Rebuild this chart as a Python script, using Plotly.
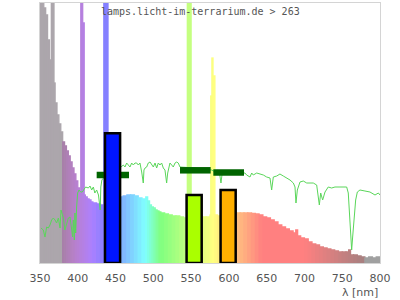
import plotly.graph_objects as go

# ---------------- data ----------------
title_text = "lamps.licht-im-terrarium.de > 263"
axis_title = "λ [nm]"
tick_vals = [350, 400, 450, 500, 550, 600, 650, 700, 750, 800]

# measured lamp spectrum: bin start wavelength (nm) and relative intensity
lam_start = [350, 355, 357.5, 360, 362.5, 365, 368.5, 370, 372.5, 375, 377.5,
             380, 382.5, 385, 387.5, 390, 392.5, 395, 397.5, 400, 402.5, 404, 406.5, 408.5,
             410, 412.5, 415, 417.5, 420, 425, 430, 434.5, 440, 445, 450, 455, 457.5,
             460, 465, 470, 475, 480, 485, 490, 492.5, 495, 497.5, 500, 502.5, 505, 507.5,
             510, 515, 520, 525, 530, 535, 540, 545, 550, 555, 560, 565, 570, 575, 576,
             577.5, 579, 581.5, 585, 590, 595, 600, 605, 610, 615, 620, 625, 630, 635,
             640, 645, 650, 655, 660, 665, 670, 675, 680, 685, 688.5, 691, 695, 700, 705,
             710, 715, 720, 725, 730, 735, 740, 745, 750, 755, 758.5, 761, 765, 770, 775,
             780, 785, 790, 795]
spec_val = [300, 255, 248, 223, 203, 300, 180, 160, 148, 139, 131,
            121, 117, 112, 107, 101, 95, 89, 82, 75, 70, 300, 240, 68,
            66, 64, 63, 61, 60, 59, 58, 300, 62, 63, 64, 65, 66,
            67, 68, 68, 67, 65, 64, 66, 62, 58, 56, 55, 53, 52, 51,
            50, 49, 48, 47, 47, 46, 45, 300, 46, 46, 46, 46, 46, 48, 167,
            205, 187, 48, 47, 50, 50, 50, 50, 50, 50, 50, 50, 49.5, 49,
            48, 46, 45, 43, 41, 38, 36, 34, 32, 30, 33, 27, 25, 24, 21,
            19, 18, 16, 15, 14, 13, 12, 11, 11, 11, 13, 8, 8, 7, 6,
            5, 6, 5, 6]
lam_end = 800

# reference (sunlight) spectrum
sun_lam = [351.3, 354.4, 356.6, 358.8, 361, 363.2, 365.4, 367.6, 369.9, 372, 374.3, 376.5,
           377.8, 378.7, 380.9, 383, 385.3, 387.5, 389.7, 391.9, 393.2, 394, 395.4, 396.3,
           397.2, 398.5, 399.8, 401.6, 403.8, 406, 408.2, 410.4, 414, 416.2, 418.4, 420.6,
           422.6, 425, 427.4, 428.8, 429.7, 430.5, 431.9, 445, 457.2, 460.3, 462.5, 464.7,
           466.9, 469.1, 471.3, 473.5, 475.7, 478, 480.1, 482.3, 484.6, 486.7, 487.6, 489,
           491.2, 493.3, 495.6, 497.8, 500, 502.2, 504.4, 506.6, 508.8, 511, 513.2, 515.4,
           517.6, 519, 520.7, 522, 524.3, 526.4, 528.7, 530.9, 533, 535.3, 555, 577.2, 582,
           585.6, 588, 589.5, 591, 600, 619, 621.3, 623.5, 627.9, 630.2, 632.3, 636.8, 641.2,
           645.6, 650, 654.4, 656.6, 658.8, 663.3, 667.6, 672, 676.5, 680.9, 685.3, 687.5,
           688.8, 690.6, 694.1, 698.5, 703, 707.3, 711.7, 716.2, 718.3, 719.7, 721.5, 724.1,
           727.2, 731.5, 736, 740.4, 747, 755.9, 758, 760.3, 762.5, 763.8, 765.6, 767.8, 770,
           773.5, 780.1, 786.7, 793.4, 797.8, 800]
sun_val = [35, 33, 26, 36, 35, 38, 43, 45, 43, 40, 45, 35,
           53, 51, 45, 33, 40, 45, 46, 36, 26, 43, 23, 50,
           30, 56, 70, 73, 71, 71, 73, 76, 75, 77, 73, 76,
           70, 73, 68, 61, 53, 76, 83, 95, 96, 98, 96, 100,
           98, 96, 100, 98, 100, 100, 98, 100, 91, 80, 93, 95,
           96, 100, 101, 98, 96, 100, 95, 100, 98, 100, 95, 93,
           80, 90, 95, 100, 98, 96, 100, 101, 100, 96, 95, 93, 91,
           93, 88, 80, 89, 91, 90, 90, 88, 86, 90, 88, 90, 89,
           88, 86, 85, 73, 86, 87, 89, 87, 85, 83, 80, 76,
           60, 73, 81, 82, 80, 80, 80, 78, 66, 58, 70, 63,
           71, 76, 75, 76, 76, 76, 70, 46, 13, 26, 46, 63, 71,
           73, 72, 71, 68, 70, 68]

# band averages (dark green segments)
seg_from = [425, 535.3, 579.4]
seg_to = [467.8, 575.9, 620]
seg_val = [88, 92.7, 90.5]

# band bars (blue, green, orange)
band_center = [446, 554, 599]
band_val = [129.7, 68, 73]
band_colors = ["#0015ff", "#aaff00", "#ffb000"]
band_width = 20


# ---------------- styles ----------------
def wl_color(l):
    if l < 380:
        return "#aca6ac"
    if l >= 780:
        return "#a0a0a0"
    if l < 440:
        r, g, b = (440 - l) / 60, 0, 1
    elif l < 490:
        r, g, b = 0, (l - 440) / 50, 1
    elif l < 510:
        r, g, b = 0, 1, (510 - l) / 20
    elif l < 580:
        r, g, b = (l - 510) / 70, 1, 0
    elif l < 645:
        r, g, b = 1, (645 - l) / 65, 0
    else:
        r, g, b = 1, 0, 0
    if l < 420:
        f = 0.3 + 0.7 * (l - 380) / 40
    elif l > 700:
        f = 0.3 + 0.7 * (780 - l) / 80
    else:
        f = 1.0
    c = [int(round(255 * (0.5 + 0.5 * v * f))) for v in (r, g, b)]
    return "rgb(%d,%d,%d)" % tuple(c)


edges = lam_start[1:] + [lam_end]
widths = [e - s for s, e in zip(lam_start, edges)]
centers = [s + w / 2 for s, w in zip(lam_start, widths)]
colors = [wl_color(c) for c in centers]

fig = go.Figure()
fig.add_trace(go.Bar(x=lam_start, y=spec_val, width=widths, offset=0,
                     marker=dict(color=colors, line=dict(width=1.3, color=colors)),
                     showlegend=False, hoverinfo="skip"))
fig.add_trace(go.Scatter(x=sun_lam, y=sun_val, mode="lines",
                         line=dict(color="#5ad65a", width=1),
                         showlegend=False, hoverinfo="skip"))
for a, b, v in zip(seg_from, seg_to, seg_val):
    fig.add_trace(go.Scatter(x=[a, b], y=[v, v], mode="lines",
                             line=dict(color="#006400", width=6.5),
                             showlegend=False, hoverinfo="skip"))
for c, v, col in zip(band_center, band_val, band_colors):
    x0, x1 = c - band_width / 2, c + band_width / 2
    fig.add_trace(go.Scatter(x=[x0, x0, x1, x1, x0], y=[0, v, v, 0, 0],
                             mode="lines", fill="toself", fillcolor=col,
                             line=dict(color="#000000", width=2.5),
                             showlegend=False, hoverinfo="skip"))

fig.add_annotation(text=title_text, xref="paper", yref="paper",
                   x=0.4735, y=0.967, xanchor="center", yanchor="middle",
                   showarrow=False,
                   font=dict(family="DejaVu Sans Mono", size=10, color="#555555"))
fig.add_annotation(text=axis_title, xref="paper", yref="paper",
                   x=1.0, y=-0.115, xanchor="right", yanchor="middle",
                   showarrow=False,
                   font=dict(family="DejaVu Sans", size=11, color="#555555"))

fig.update_layout(
    width=400, height=300,
    margin=dict(l=40, r=20, t=3, b=37),
    paper_bgcolor="white", plot_bgcolor="white",
    barmode="overlay",
    xaxis=dict(range=[350, 800], tickvals=tick_vals, ticks="",
               ticklabelstandoff=5,
               showgrid=False, zeroline=False,
               showline=True, mirror=True, linecolor="#d4d4d4", linewidth=1,
               tickfont=dict(family="DejaVu Sans", size=11, color="#555555")),
    yaxis=dict(range=[0, 260], showticklabels=False, ticks="",
               showgrid=False, zeroline=False,
               showline=True, mirror=True, linecolor="#d4d4d4", linewidth=1),
)

fig.write_html("out.html")
